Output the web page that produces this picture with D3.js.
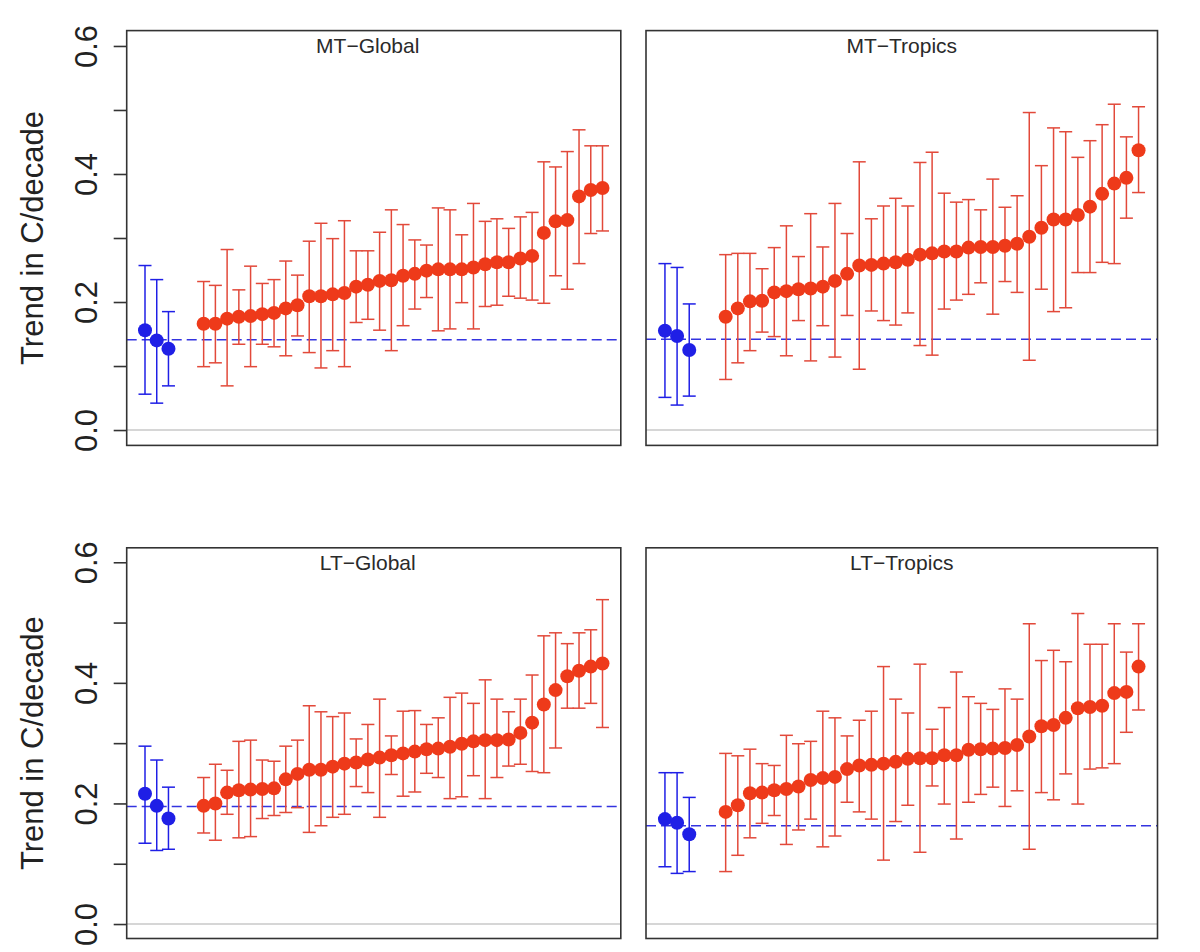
<!DOCTYPE html>
<html>
<head>
<meta charset="utf-8">
<script src="https://cdn.jsdelivr.net/npm/d3@7"></script>
<style>
  body { margin: 0; background: #fff; }
  svg { display: block; font-family: "Liberation Sans", Arial, sans-serif; }
</style>
</head>
<body>
<div id="chart"></div>
<script>
// panel titles
const panelTitles = ["MT\u2212Global", "MT\u2212Tropics", "LT\u2212Global", "LT\u2212Tropics"];

// y ticks
const yTicks = [0, 0.1, 0.2, 0.3, 0.4, 0.5, 0.6];

// observations: [trend, low, high]
const mtGlobalObs = [[0.156, 0.056, 0.257], [0.140, 0.042, 0.235], [0.127, 0.069, 0.185]];
const mtTropicsObs = [[0.155, 0.051, 0.260], [0.147, 0.039, 0.254], [0.125, 0.053, 0.197]];
const ltGlobalObs = [[0.216, 0.134, 0.295], [0.196, 0.122, 0.272], [0.175, 0.124, 0.227]];
const ltTropicsObs = [[0.174, 0.095, 0.251], [0.168, 0.084, 0.251], [0.149, 0.087, 0.210]];

// mean of observations (dashed line)
const refLines = [0.141, 0.142, 0.195, 0.163];

// models: [trend, low, high], sorted
const mtGlobalModels = [
  [0.166, 0.099, 0.232], [0.166, 0.105, 0.226], [0.174, 0.069, 0.282], [0.177, 0.134, 0.219],
  [0.178, 0.099, 0.256], [0.181, 0.134, 0.229], [0.183, 0.130, 0.235], [0.190, 0.116, 0.264],
  [0.195, 0.147, 0.242], [0.209, 0.121, 0.295], [0.209, 0.097, 0.323], [0.212, 0.124, 0.299],
  [0.214, 0.099, 0.327], [0.224, 0.168, 0.280], [0.227, 0.173, 0.280], [0.233, 0.156, 0.309],
  [0.234, 0.124, 0.344], [0.241, 0.163, 0.321], [0.244, 0.189, 0.297], [0.249, 0.207, 0.289],
  [0.251, 0.155, 0.347], [0.251, 0.158, 0.344], [0.251, 0.199, 0.305], [0.254, 0.158, 0.354],
  [0.259, 0.193, 0.326], [0.262, 0.195, 0.330], [0.262, 0.209, 0.315], [0.268, 0.206, 0.333],
  [0.272, 0.203, 0.340], [0.308, 0.198, 0.419], [0.326, 0.241, 0.411], [0.328, 0.220, 0.435],
  [0.365, 0.260, 0.469], [0.375, 0.307, 0.444], [0.378, 0.311, 0.444]
];
const mtTropicsModels = [
  [0.177, 0.079, 0.274], [0.190, 0.105, 0.276], [0.201, 0.124, 0.276], [0.202, 0.153, 0.252],
  [0.215, 0.146, 0.285], [0.217, 0.116, 0.319], [0.220, 0.171, 0.271], [0.221, 0.108, 0.338],
  [0.224, 0.163, 0.286], [0.233, 0.114, 0.354], [0.244, 0.179, 0.307], [0.257, 0.095, 0.419],
  [0.258, 0.186, 0.330], [0.260, 0.171, 0.350], [0.262, 0.164, 0.362], [0.266, 0.183, 0.350],
  [0.274, 0.132, 0.418], [0.276, 0.117, 0.434], [0.279, 0.189, 0.370], [0.279, 0.203, 0.356],
  [0.285, 0.212, 0.360], [0.286, 0.230, 0.344], [0.286, 0.181, 0.392], [0.288, 0.232, 0.348],
  [0.291, 0.215, 0.366], [0.302, 0.109, 0.496], [0.316, 0.220, 0.413], [0.329, 0.185, 0.472],
  [0.329, 0.191, 0.466], [0.336, 0.246, 0.426], [0.349, 0.246, 0.452], [0.369, 0.262, 0.477],
  [0.385, 0.260, 0.509], [0.394, 0.331, 0.458], [0.437, 0.371, 0.505]
];
const ltGlobalModels = [
  [0.196, 0.151, 0.243], [0.200, 0.139, 0.265], [0.218, 0.182, 0.255], [0.222, 0.143, 0.303],
  [0.223, 0.145, 0.305], [0.224, 0.175, 0.272], [0.225, 0.180, 0.270], [0.240, 0.185, 0.295],
  [0.249, 0.193, 0.305], [0.256, 0.152, 0.362], [0.256, 0.163, 0.352], [0.261, 0.177, 0.344],
  [0.266, 0.182, 0.350], [0.268, 0.228, 0.307], [0.273, 0.218, 0.331], [0.276, 0.177, 0.373],
  [0.280, 0.248, 0.312], [0.283, 0.212, 0.353], [0.286, 0.219, 0.354], [0.290, 0.250, 0.331],
  [0.291, 0.243, 0.342], [0.294, 0.208, 0.376], [0.299, 0.211, 0.383], [0.303, 0.246, 0.366],
  [0.305, 0.208, 0.405], [0.305, 0.243, 0.373], [0.306, 0.262, 0.352], [0.317, 0.265, 0.373],
  [0.334, 0.253, 0.413], [0.364, 0.251, 0.478], [0.388, 0.292, 0.483], [0.411, 0.358, 0.465],
  [0.420, 0.358, 0.483], [0.427, 0.366, 0.488], [0.432, 0.326, 0.538]
];
const ltTropicsModels = [
  [0.186, 0.087, 0.283], [0.197, 0.114, 0.279], [0.217, 0.143, 0.290], [0.218, 0.167, 0.266],
  [0.222, 0.180, 0.263], [0.224, 0.132, 0.313], [0.228, 0.156, 0.299], [0.239, 0.174, 0.303],
  [0.242, 0.128, 0.353], [0.244, 0.146, 0.342], [0.257, 0.202, 0.312], [0.263, 0.186, 0.338],
  [0.264, 0.174, 0.353], [0.266, 0.106, 0.427], [0.269, 0.170, 0.373], [0.274, 0.197, 0.350],
  [0.275, 0.119, 0.431], [0.275, 0.229, 0.323], [0.280, 0.199, 0.359], [0.280, 0.141, 0.418],
  [0.289, 0.202, 0.377], [0.290, 0.215, 0.366], [0.291, 0.227, 0.356], [0.292, 0.195, 0.390],
  [0.297, 0.221, 0.373], [0.311, 0.124, 0.498], [0.328, 0.218, 0.437], [0.330, 0.206, 0.454],
  [0.342, 0.249, 0.435], [0.358, 0.199, 0.515], [0.360, 0.257, 0.464], [0.362, 0.259, 0.464],
  [0.383, 0.266, 0.498], [0.385, 0.318, 0.451], [0.427, 0.355, 0.498]
];

const panelObs = [mtGlobalObs, mtTropicsObs, ltGlobalObs, ltTropicsObs];
const panelModels = [mtGlobalModels, mtTropicsModels, ltGlobalModels, ltTropicsModels];

// layout (panel boxes are not the same size, as in the picture)
const W = 1200, H = 952;
const cols = [[126.7, 620.8], [646, 1157.5]];
const rows = [[445.4, 30.6], [938.5, 547.8]];
const titleShift = [-6, 0];
const blue = "#1f1fe6", redDot = "#ee3a1a", redBar = "#e2493a", axisCol = "#333";

const svg = d3.select("#chart").append("svg")
    .attr("width", W)
    .attr("height", H);

svg.append("rect").attr("width", W).attr("height", H).attr("fill", "#fff");

panelTitles.forEach((title, p) => {
    const col = cols[p % 2], row = rows[Math.floor(p / 2)];
    const obs = panelObs[p], models = panelModels[p];

    // 3 obs, 2 empty slots, then models
    const n = obs.length + 2 + models.length;
    const pad = (n - 1) * 0.04;
    const x = d3.scaleLinear().domain([1 - pad, n + pad]).range(col);
    const y = d3.scaleLinear().domain([-0.024, 0.624]).range(row);

    const pts = obs.map((d, i) => ({ i: i + 1, v: d, obs: true }))
        .concat(models.map((d, i) => ({ i: i + obs.length + 3, v: d, obs: false })));

    const g = svg.append("g");

    // zero line
    g.append("line")
        .attr("x1", col[0]).attr("x2", col[1])
        .attr("y1", y(0)).attr("y2", y(0))
        .attr("stroke", "#c8c8c8").attr("stroke-width", 1.5);

    // obs mean
    g.append("line")
        .attr("x1", col[0]).attr("x2", col[1])
        .attr("y1", y(refLines[p])).attr("y2", y(refLines[p]))
        .attr("stroke", "#3434e0").attr("stroke-width", 1.5)
        .attr("stroke-dasharray", "10,5");

    // error bars
    const bars = g.selectAll(".bar").data(pts).enter().append("g")
        .attr("stroke", d => d.obs ? blue : redBar)
        .attr("stroke-width", 1.5);
    bars.append("line")
        .attr("x1", d => x(d.i)).attr("x2", d => x(d.i))
        .attr("y1", d => y(d.v[1])).attr("y2", d => y(d.v[2]));
    bars.append("line")
        .attr("x1", d => x(d.i) - 6.5).attr("x2", d => x(d.i) + 6.5)
        .attr("y1", d => y(d.v[1])).attr("y2", d => y(d.v[1]));
    bars.append("line")
        .attr("x1", d => x(d.i) - 6.5).attr("x2", d => x(d.i) + 6.5)
        .attr("y1", d => y(d.v[2])).attr("y2", d => y(d.v[2]));

    // points
    g.selectAll("circle").data(pts).enter().append("circle")
        .attr("cx", d => x(d.i))
        .attr("cy", d => y(d.v[0]))
        .attr("r", 7)
        .attr("fill", d => d.obs ? blue : redDot);

    // box
    g.append("rect")
        .attr("x", col[0]).attr("y", row[1])
        .attr("width", col[1] - col[0]).attr("height", row[0] - row[1])
        .attr("fill", "none").attr("stroke", axisCol).attr("stroke-width", 1.6);

    // title
    g.append("text")
        .attr("x", (col[0] + col[1]) / 2 + titleShift[p % 2])
        .attr("y", row[1] + 22.5)
        .attr("text-anchor", "middle")
        .attr("fill", "#2a2a2a")
        .style("font-size", "21px")
        .text(title);

    // y axis only on left column
    if (p % 2 === 0) {
        const ax = g.append("g")
            .attr("transform", `translate(${col[0]},0)`)
            .call(d3.axisLeft(y).tickValues(yTicks).tickSize(13)
                .tickFormat(v => Math.round(v * 10) % 2 === 0 ? d3.format(".1f")(v) : ""));
        ax.select(".domain").remove();
        ax.selectAll("line").attr("stroke", axisCol).attr("stroke-width", 1.6);
        ax.selectAll("text")
            .attr("transform", "rotate(-90)")
            .attr("x", 0).attr("y", -30).attr("dy", 0)
            .attr("text-anchor", "middle")
            .attr("fill", "#222")
            .style("font-size", "31px")
            .style("font-family", "'Liberation Sans', Arial, sans-serif");

        g.append("text")
            .attr("transform", `translate(43,${(y(0) + y(0.6)) / 2}) rotate(-90)`)
            .attr("text-anchor", "middle")
            .attr("fill", "#222")
            .style("font-size", "31px")
            .text("Trend in C/decade");
    }
});
</script>
</body>
</html>
